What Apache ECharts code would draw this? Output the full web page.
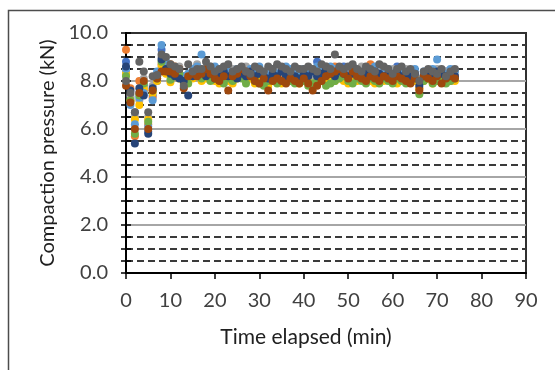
<!DOCTYPE html>
<html>
<head>
<meta charset="utf-8">
<script src="https://cdn.jsdelivr.net/npm/echarts@6/dist/echarts.min.js"></script>
<style>
  html, body { margin: 0; padding: 0; background: #fff; }
  #chart { width: 555px; height: 370px; }
</style>
</head>
<body>
<div id="chart"></div>
<script>
// elapsed time of each reading (min)
const minutes = [0, 1, 2, 3, 4, 5, 6, 7, 8, 9, 10, 11, 12, 13, 14, 15, 16, 17, 18, 19,
  20, 21, 22, 23, 24, 25, 26, 27, 28, 29, 30, 31, 32, 33, 34, 35, 36, 37, 38, 39,
  40, 41, 42, 43, 44, 45, 46, 47, 48, 49, 50, 51, 52, 53, 54, 55, 56, 57, 58, 59,
  60, 61, 62, 63, 64, 65, 66, 67, 68, 69, 70, 71, 72, 73, 74];

// compaction pressure per run (kN)
const run1 = [8.8, 7.3, 6.7, 7.5, 7.8, 5.9, 7.4, 8.0, 9.3, 8.6, 8.4, 8.3, 8.2, 8.0, 8.2, 8.3, 8.4, 8.5, 8.4, 8.3,
  8.5, 8.2, 8.4, 8.3, 8.2, 8.4, 8.3, 8.5, 8.3, 8.2, 8.4, 8.3, 8.2, 8.5, 8.3, 8.4, 8.2, 8.3, 8.5, 8.3,
  8.4, 8.2, 8.3, 8.8, 8.4, 8.3, 8.5, 8.4, 8.3, 8.6, 8.4, 8.3, 8.5, 8.4, 8.2, 8.3, 8.5, 8.4, 8.3, 8.2,
  8.4, 8.6, 8.3, 8.4, 8.2, 8.3, 7.9, 8.3, 8.4, 8.3, 8.4, 8.2, 8.4, 8.3, 8.2];
const run2 = [9.3, 7.7, 5.7, 8.0, 7.6, 6.2, 7.3, 8.2, 8.7, 8.4, 8.7, 8.6, 8.3, 8.1, 8.0, 8.2, 8.6, 8.4, 8.3, 8.5,
  8.2, 8.4, 8.0, 8.3, 8.1, 8.4, 8.2, 8.3, 8.1, 8.4, 8.2, 8.1, 8.3, 8.2, 8.4, 8.1, 8.3, 8.2, 8.1, 8.3,
  8.2, 8.0, 8.1, 8.3, 8.4, 8.2, 8.3, 8.6, 8.4, 8.2, 8.3, 8.5, 8.3, 8.2, 8.1, 8.7, 8.3, 8.2, 8.4, 8.3,
  8.2, 8.1, 8.3, 8.2, 8.0, 8.2, 7.7, 8.1, 8.3, 8.2, 8.1, 8.3, 8.2, 8.0, 8.2];
const run3 = [8.4, 7.4, 6.5, 7.2, 8.1, 6.5, 7.8, 8.3, 9.0, 8.7, 8.5, 8.4, 8.6, 8.2, 8.3, 8.4, 8.7, 8.5, 8.4, 8.6,
  8.3, 8.5, 8.4, 8.2, 8.5, 8.4, 8.3, 8.6, 8.4, 8.3, 8.5, 8.4, 8.3, 8.4, 8.6, 8.5, 8.3, 8.4, 8.3, 8.5,
  8.4, 8.3, 8.2, 8.5, 8.4, 8.6, 8.5, 8.4, 8.3, 8.4, 8.5, 8.3, 8.4, 8.6, 8.4, 8.3, 8.5, 8.4, 8.2, 8.4,
  8.5, 8.3, 8.4, 8.5, 8.3, 8.4, 8.1, 8.2, 8.3, 8.4, 8.5, 8.3, 8.4, 8.3, 8.4];
const run4 = [8.3, 7.2, 6.4, 7.0, 7.7, 6.4, 7.5, 8.0, 8.6, 8.3, 7.95, 8.2, 8.1, 7.9, 8.0, 8.1, 8.2, 8.0, 8.1, 8.2,
  8.0, 7.9, 8.1, 8.0, 7.9, 8.1, 8.2, 8.0, 8.1, 7.9, 8.0, 8.1, 7.8, 8.0, 8.1, 7.9, 8.0, 8.1, 8.0, 7.9,
  8.1, 8.0, 7.8, 8.0, 8.1, 7.9, 8.2, 8.0, 8.1, 8.0, 7.9, 8.1, 8.0, 8.1, 8.2, 8.0, 7.9, 8.1, 8.0, 8.1,
  8.0, 7.9, 8.1, 8.0, 8.1, 8.0, 7.7, 8.0, 8.1, 7.9, 8.0, 8.1, 8.0, 8.1, 8.0];
const run5 = [8.5, 7.0, 6.2, 7.3, 7.5, 6.1, 7.2, 8.4, 9.5, 8.8, 8.5, 8.4, 8.3, 8.2, 8.3, 8.5, 8.6, 9.1, 8.5, 8.4,
  8.6, 8.3, 8.5, 8.4, 8.3, 8.5, 8.4, 8.3, 8.5, 8.4, 8.6, 8.3, 8.4, 8.5, 8.3, 8.4, 8.6, 8.5, 8.3, 8.4,
  8.5, 8.3, 8.4, 8.6, 8.5, 8.4, 8.6, 8.5, 8.4, 8.3, 8.5, 8.6, 8.4, 8.3, 8.5, 8.4, 8.6, 8.3, 8.4, 8.5,
  8.3, 8.4, 8.5, 8.3, 8.4, 8.5, 8.0, 8.4, 8.3, 8.5, 8.9, 8.4, 8.3, 8.5, 8.4];
const run6 = [8.2, 7.2, 5.8, 7.4, 7.9, 6.3, 7.6, 8.1, 8.8, 8.5, 8.05, 8.2, 8.3, 8.0, 7.9, 8.2, 8.3, 8.1, 8.2, 8.0,
  8.2, 8.1, 7.9, 8.1, 8.0, 8.2, 8.1, 7.9, 8.2, 8.0, 7.9, 7.8, 8.0, 8.1, 7.9, 8.0, 8.2, 8.0, 7.9, 8.1,
  8.0, 7.8, 7.9, 8.0, 8.1, 7.8, 7.9, 8.0, 8.1, 8.2, 8.0, 7.9, 8.1, 8.0, 7.9, 8.1, 8.0, 7.9, 8.1, 8.0,
  7.9, 8.1, 8.0, 7.9, 8.0, 8.1, 7.45, 8.0, 8.1, 7.9, 8.0, 8.1, 7.9, 8.0, 8.1];
const run7 = [8.6, 7.6, 5.4, 7.7, 7.4, 5.8, 7.7, 8.2, 8.9, 8.5, 8.3, 8.2, 8.1, 8.0, 7.4, 8.2, 8.3, 8.4, 8.2, 8.3,
  8.1, 8.2, 8.4, 8.2, 8.3, 8.1, 8.3, 8.2, 8.4, 8.2, 8.3, 8.2, 8.1, 8.3, 8.2, 8.4, 8.2, 8.3, 8.2, 8.1,
  8.3, 8.2, 8.4, 8.2, 8.3, 8.5, 8.3, 8.2, 8.4, 8.3, 8.2, 8.3, 8.4, 8.2, 8.3, 8.2, 8.4, 8.3, 8.2, 8.3,
  8.2, 8.4, 8.2, 8.3, 8.2, 8.3, 7.8, 8.2, 8.3, 8.2, 8.4, 8.3, 8.2, 8.3, 8.2];
const run8 = [7.8, 7.1, 6.0, 7.5, 8.0, 6.0, 7.6, 8.1, 8.4, 8.4, 8.4, 8.3, 8.5, 7.7, 8.2, 8.3, 8.2, 8.3, 8.5, 8.3,
  8.1, 8.0, 8.2, 7.6, 8.2, 8.3, 8.5, 8.4, 8.2, 8.0, 7.9, 8.1, 7.6, 8.0, 8.1, 8.0, 7.9, 8.1, 8.0, 7.9,
  8.1, 7.9, 7.6, 7.8, 8.0, 8.2, 8.3, 8.4, 8.5, 8.3, 8.1, 8.4, 8.2, 8.1, 8.0, 8.2, 8.1, 8.0, 8.2, 8.1,
  8.0, 8.2, 8.1, 8.0, 7.9, 8.1, 7.6, 8.2, 8.1, 8.0, 8.2, 7.9, 8.1, 8.2, 8.1];
const run9 = [8.0, 7.5, 6.7, 8.8, 8.4, 6.7, 8.2, 8.25, 9.1, 9.0, 8.7, 8.6, 8.5, 7.8, 8.7, 8.4, 8.5, 8.5, 8.8, 8.6,
  8.4, 8.5, 8.6, 8.7, 8.4, 8.5, 8.6, 8.4, 8.3, 8.6, 8.5, 8.4, 8.6, 8.5, 8.7, 8.6, 8.5, 8.4, 8.6, 8.5,
  8.5, 8.6, 8.5, 8.4, 8.7, 8.6, 8.5, 9.1, 8.6, 8.5, 8.6, 8.7, 8.5, 8.4, 8.6, 8.5, 8.4, 8.7, 8.6, 8.5,
  8.3, 8.5, 8.6, 8.4, 8.5, 8.3, 8.0, 8.4, 8.5, 8.4, 8.3, 8.5, 8.2, 8.4, 8.5];

const runs = [run1, run2, run3, run4, run5, run6, run7, run8, run9];
const runColors = ['#4472C4', '#ED7D31', '#A5A5A5', '#FFC000', '#5B9BD5', '#70AD47', '#264478', '#9E480E', '#636363'];

const FONT = 'Lato';
const dash = '#3a3a3a';

const chart = echarts.init(document.getElementById('chart'));
chart.setOption({
  animation: false,
  textStyle: { fontFamily: FONT },
  graphic: [{
    type: 'rect',
    shape: { x: 8.5, y: 10.5, width: 600, height: 400 },
    style: { fill: 'none', stroke: '#4d4d4d', lineWidth: 1.5 },
    silent: true
  }],
  grid: {
    left: 126, right: 29, top: 33, bottom: 97,
    show: true, borderColor: '#303030', borderWidth: 2
  },
  xAxis: {
    type: 'value',
    min: 0, max: 90, interval: 10,
    name: 'Time elapsed (min)',
    nameLocation: 'middle',
    nameGap: 54,
    nameTextStyle: { fontSize: 21, color: '#202020', padding: [0, 40, 0, 0] },
    axisLine: { lineStyle: { color: '#000', width: 2 } },
    axisTick: { length: 6, lineStyle: { color: '#000', width: 1.5 } },
    axisLabel: { fontSize: 20, color: '#404040', margin: 18 },
    splitLine: { show: false }
  },
  yAxis: [{
    type: 'value',
    min: 0, max: 10, interval: 0.5,
    name: 'Compaction pressure (kN)',
    nameLocation: 'middle',
    nameGap: 68,
    nameTextStyle: { fontSize: 20, color: '#202020' },
    axisLine: { show: true, lineStyle: { color: '#000', width: 2 } },
    axisTick: { length: 5, lineStyle: { color: '#000', width: 1.5 } },
    axisLabel: {
      fontSize: 20, color: '#404040', margin: 18,
      formatter: v => (Math.abs(v % 2) < 1e-9 ? v.toFixed(1) : '')
    },
    splitLine: {
      lineStyle: { color: ['transparent', dash, dash, dash], width: 2, type: [7, 4] }
    }
  }, {
    type: 'value',
    min: 0, max: 10, interval: 0.5,
    position: 'left',
    axisLine: { show: false },
    axisTick: { inside: true, length: 5, lineStyle: { color: '#000', width: 1.5 } },
    axisLabel: { show: false },
    splitLine: { show: false }
  }, {
    type: 'value',
    min: 0, max: 10, interval: 2,
    position: 'left',
    axisLine: { show: false },
    axisTick: { show: false },
    axisLabel: { show: false },
    splitLine: {
      lineStyle: { color: ['transparent', '#a6a6a6', '#a6a6a6', '#a6a6a6', '#a6a6a6', 'transparent'], width: 2 }
    }
  }],
  series: runs.map((vals, k) => ({
    type: 'scatter',
    yAxisIndex: 0,
    symbol: 'circle',
    symbolSize: 8,
    itemStyle: { color: runColors[k], opacity: 1 },
    data: minutes.map((t, i) => [t, vals[i]])
  }))
});
</script>
</body>
</html>
